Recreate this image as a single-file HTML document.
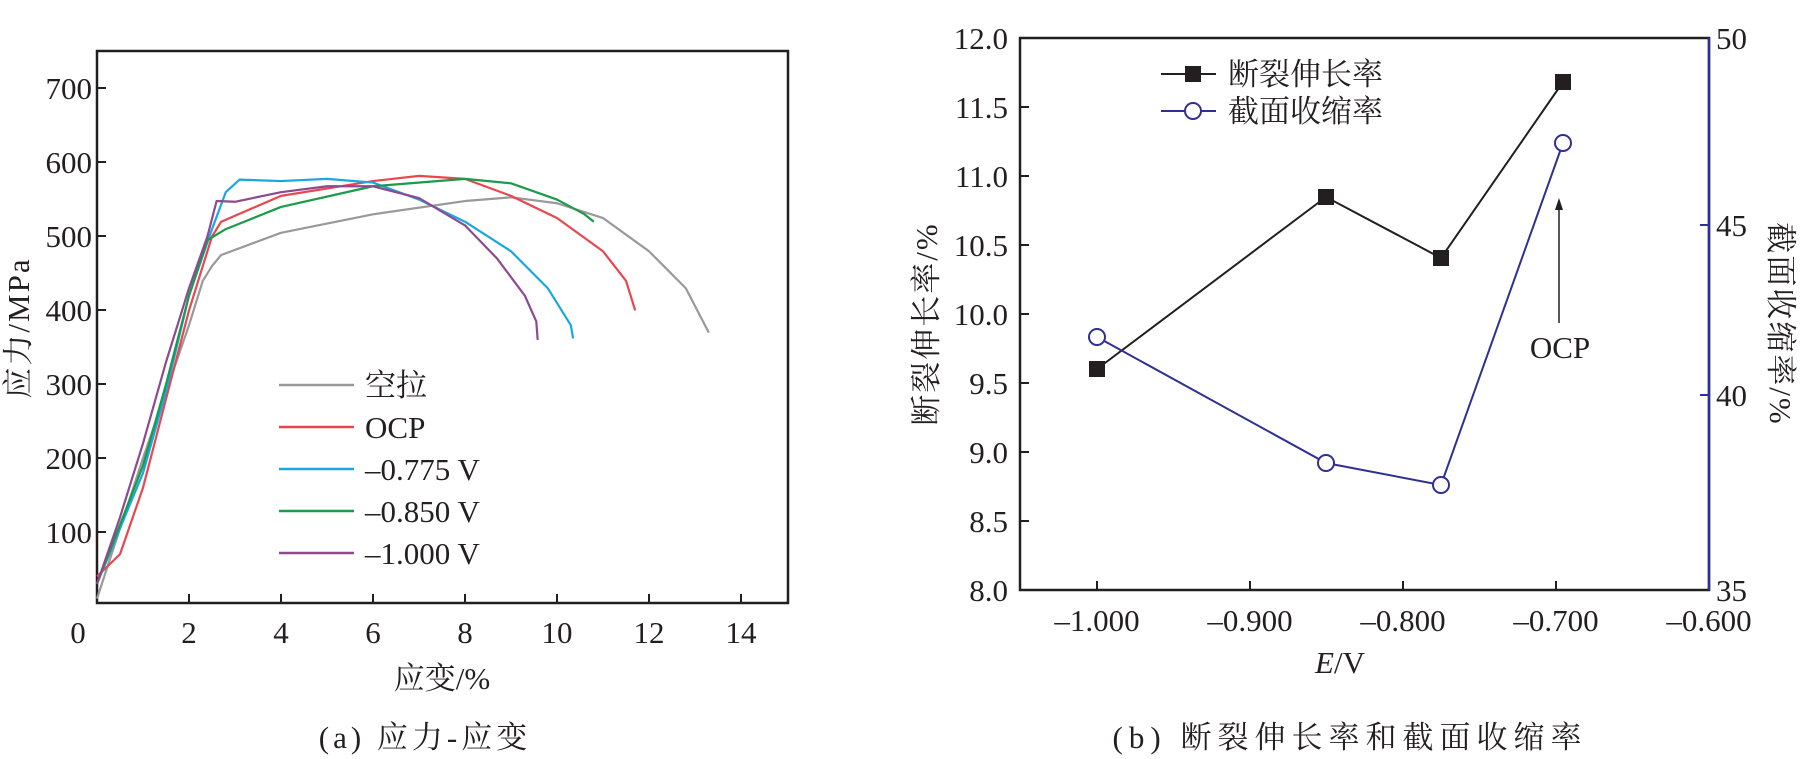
<!DOCTYPE html>
<html><head><meta charset="utf-8"><style>
html,body{margin:0;padding:0;background:#fff;}
svg{display:block;}
text{font-family:"Liberation Serif","Noto Serif CJK SC",serif;fill:#231f20;}
</style></head><body>
<svg width="1801" height="759" viewBox="0 0 1801 759" xmlns="http://www.w3.org/2000/svg">
<!-- LEFT CHART -->
<rect x="97" y="51" width="691" height="552" fill="none" stroke="#231f20" stroke-width="2.5"/>
<g stroke="#231f20" stroke-width="2">
<line x1="97" y1="88" x2="106" y2="88"/><line x1="97" y1="162" x2="106" y2="162"/><line x1="97" y1="236" x2="106" y2="236"/><line x1="97" y1="310" x2="106" y2="310"/><line x1="97" y1="384" x2="106" y2="384"/><line x1="97" y1="458" x2="106" y2="458"/><line x1="97" y1="532" x2="106" y2="532"/>
<line x1="189" y1="603" x2="189" y2="594"/><line x1="281" y1="603" x2="281" y2="594"/><line x1="373" y1="603" x2="373" y2="594"/><line x1="465" y1="603" x2="465" y2="594"/><line x1="557" y1="603" x2="557" y2="594"/><line x1="649" y1="603" x2="649" y2="594"/><line x1="741" y1="603" x2="741" y2="594"/>
</g>
<g font-size="31" text-anchor="end">
<text x="92" y="99">700</text><text x="92" y="173">600</text><text x="92" y="247">500</text><text x="92" y="321">400</text><text x="92" y="395">300</text><text x="92" y="469">200</text><text x="92" y="543">100</text>
</g>
<g font-size="31" text-anchor="middle">
<text x="78" y="643">0</text><text x="189" y="643">2</text><text x="281" y="643">4</text><text x="373" y="643">6</text><text x="465" y="643">8</text><text x="557" y="643">10</text><text x="649" y="643">12</text><text x="741" y="643">14</text>
<text x="442" y="689">应变/%</text>
<text x="425" y="748" letter-spacing="4">(a) 应力-应变</text>
</g>
<text font-size="31" text-anchor="middle" letter-spacing="2" transform="translate(29,328) rotate(-90)">应力/MPa</text>
<g fill="none" stroke-width="2.2" stroke-linejoin="round" transform="translate(97,606) scale(46,-0.739)">
<polyline vector-effect="non-scaling-stroke" stroke="#999" points="0,10 1,200 2,380 2.3,440 2.5,460 2.7,475 4,505 6,530 8,548 9,553 10,545 11,525 12,480 12.8,430 13.3,370"/>
<polyline vector-effect="non-scaling-stroke" stroke="#e8474f" points="0,40 0.5,70 1,160 1.5,280 2,400 2.5,500 2.7,520 4,555 6,575 7,582 8,578 9,555 10,525 11,480 11.5,440 11.7,400"/>
<polyline vector-effect="non-scaling-stroke" stroke="#1aa7e0" points="0,30 1,180 1.5,290 2,420 2.5,510 2.8,560 3.1,577 4,575 5,578 6,573 7,550 8,520 9,480 9.8,430 10.3,380 10.35,362"/>
<polyline vector-effect="non-scaling-stroke" stroke="#1a9b4a" points="0,30 1,190 1.5,300 2,420 2.4,495 2.8,510 4,540 6,568 8,578 9,572 10,550 10.6,530 10.8,520"/>
<polyline vector-effect="non-scaling-stroke" stroke="#8e4a91" points="0,30 0.5,120 1,220 1.5,330 2,430 2.4,500 2.6,548 3,547 4,560 5,568 6,568 7,552 8,515 8.7,470 9.3,420 9.55,385 9.58,360"/>
</g>
<g stroke-width="2.5">
<line x1="279" y1="385" x2="354" y2="385" stroke="#999"/>
<line x1="279" y1="427" x2="354" y2="427" stroke="#e8474f"/>
<line x1="279" y1="469" x2="354" y2="469" stroke="#1aa7e0"/>
<line x1="279" y1="511" x2="354" y2="511" stroke="#1a9b4a"/>
<line x1="279" y1="553" x2="354" y2="553" stroke="#8e4a91"/>
</g>
<g font-size="31">
<text x="365" y="396">空拉</text><text x="365" y="438">OCP</text><text x="365" y="480">–0.775 V</text><text x="365" y="522">–0.850 V</text><text x="365" y="564">–1.000 V</text>
</g>

<!-- RIGHT CHART -->
<rect x="1020" y="38" width="689" height="552" fill="none" stroke="#231f20" stroke-width="2.5"/>
<line x1="1709" y1="38" x2="1709" y2="590" stroke="#2e3192" stroke-width="2.5"/>
<g stroke="#231f20" stroke-width="2">
<line x1="1020" y1="107" x2="1029" y2="107"/><line x1="1020" y1="176" x2="1029" y2="176"/><line x1="1020" y1="245" x2="1029" y2="245"/><line x1="1020" y1="314" x2="1029" y2="314"/><line x1="1020" y1="383" x2="1029" y2="383"/><line x1="1020" y1="452" x2="1029" y2="452"/><line x1="1020" y1="521" x2="1029" y2="521"/>
<line x1="1097" y1="590" x2="1097" y2="581"/><line x1="1250" y1="590" x2="1250" y2="581"/><line x1="1403" y1="590" x2="1403" y2="581"/><line x1="1556" y1="590" x2="1556" y2="581"/>
</g>
<g stroke="#2e3192" stroke-width="2"><line x1="1709" y1="225" x2="1700" y2="225"/><line x1="1709" y1="395" x2="1700" y2="395"/></g>
<g font-size="31" text-anchor="end">
<text x="1008" y="49">12.0</text><text x="1008" y="118">11.5</text><text x="1008" y="187">11.0</text><text x="1008" y="256">10.5</text><text x="1008" y="325">10.0</text><text x="1008" y="394">9.5</text><text x="1008" y="463">9.0</text><text x="1008" y="532">8.5</text><text x="1008" y="601">8.0</text>
</g>
<g font-size="31">
<text x="1716" y="49">50</text><text x="1716" y="236">45</text><text x="1716" y="406">40</text><text x="1716" y="601">35</text>
</g>
<g font-size="31" text-anchor="middle">
<text x="1097" y="631">–1.000</text><text x="1250" y="631">–0.900</text><text x="1403" y="631">–0.800</text><text x="1556" y="631">–0.700</text><text x="1709" y="631">–0.600</text>
<text x="1340" y="673"><tspan font-style="italic">E</tspan>/V</text>
<text x="1350" y="748" letter-spacing="6">(b) 断裂伸长率和截面收缩率</text>
<text x="1560" y="358">OCP</text>
</g>
<text font-size="31" text-anchor="middle" letter-spacing="2" transform="translate(937,324) rotate(-90)">断裂伸长率/%</text>
<text font-size="31" text-anchor="middle" letter-spacing="2" transform="translate(1770,324) rotate(90)">截面收缩率/%</text>
<line x1="1559" y1="323" x2="1559" y2="208" stroke="#231f20" stroke-width="1.5"/>
<polygon points="1559,198 1555,210 1563,210" fill="#231f20"/>
<polyline points="1097,369 1326,197 1441,258 1563,82" fill="none" stroke="#231f20" stroke-width="2"/>
<g fill="#231f20"><rect x="1089" y="361" width="16" height="16"/><rect x="1318" y="189" width="16" height="16"/><rect x="1433" y="250" width="16" height="16"/><rect x="1555" y="74" width="16" height="16"/></g>
<polyline points="1097,337 1326,463 1441,485 1563,143" fill="none" stroke="#2e3192" stroke-width="2"/>
<g fill="#fff" stroke="#2e3192" stroke-width="2"><circle cx="1097" cy="337" r="8"/><circle cx="1326" cy="463" r="8"/><circle cx="1441" cy="485" r="8"/><circle cx="1563" cy="143" r="8"/></g>
<line x1="1161" y1="74" x2="1216" y2="74" stroke="#231f20" stroke-width="2"/>
<rect x="1185" y="66" width="16" height="16" fill="#231f20"/>
<line x1="1161" y1="111" x2="1216" y2="111" stroke="#2e3192" stroke-width="2"/>
<circle cx="1193" cy="111" r="8" fill="#fff" stroke="#2e3192" stroke-width="2"/>
<g font-size="31"><text x="1228" y="85">断裂伸长率</text><text x="1228" y="122">截面收缩率</text></g>
</svg>
</body></html>
